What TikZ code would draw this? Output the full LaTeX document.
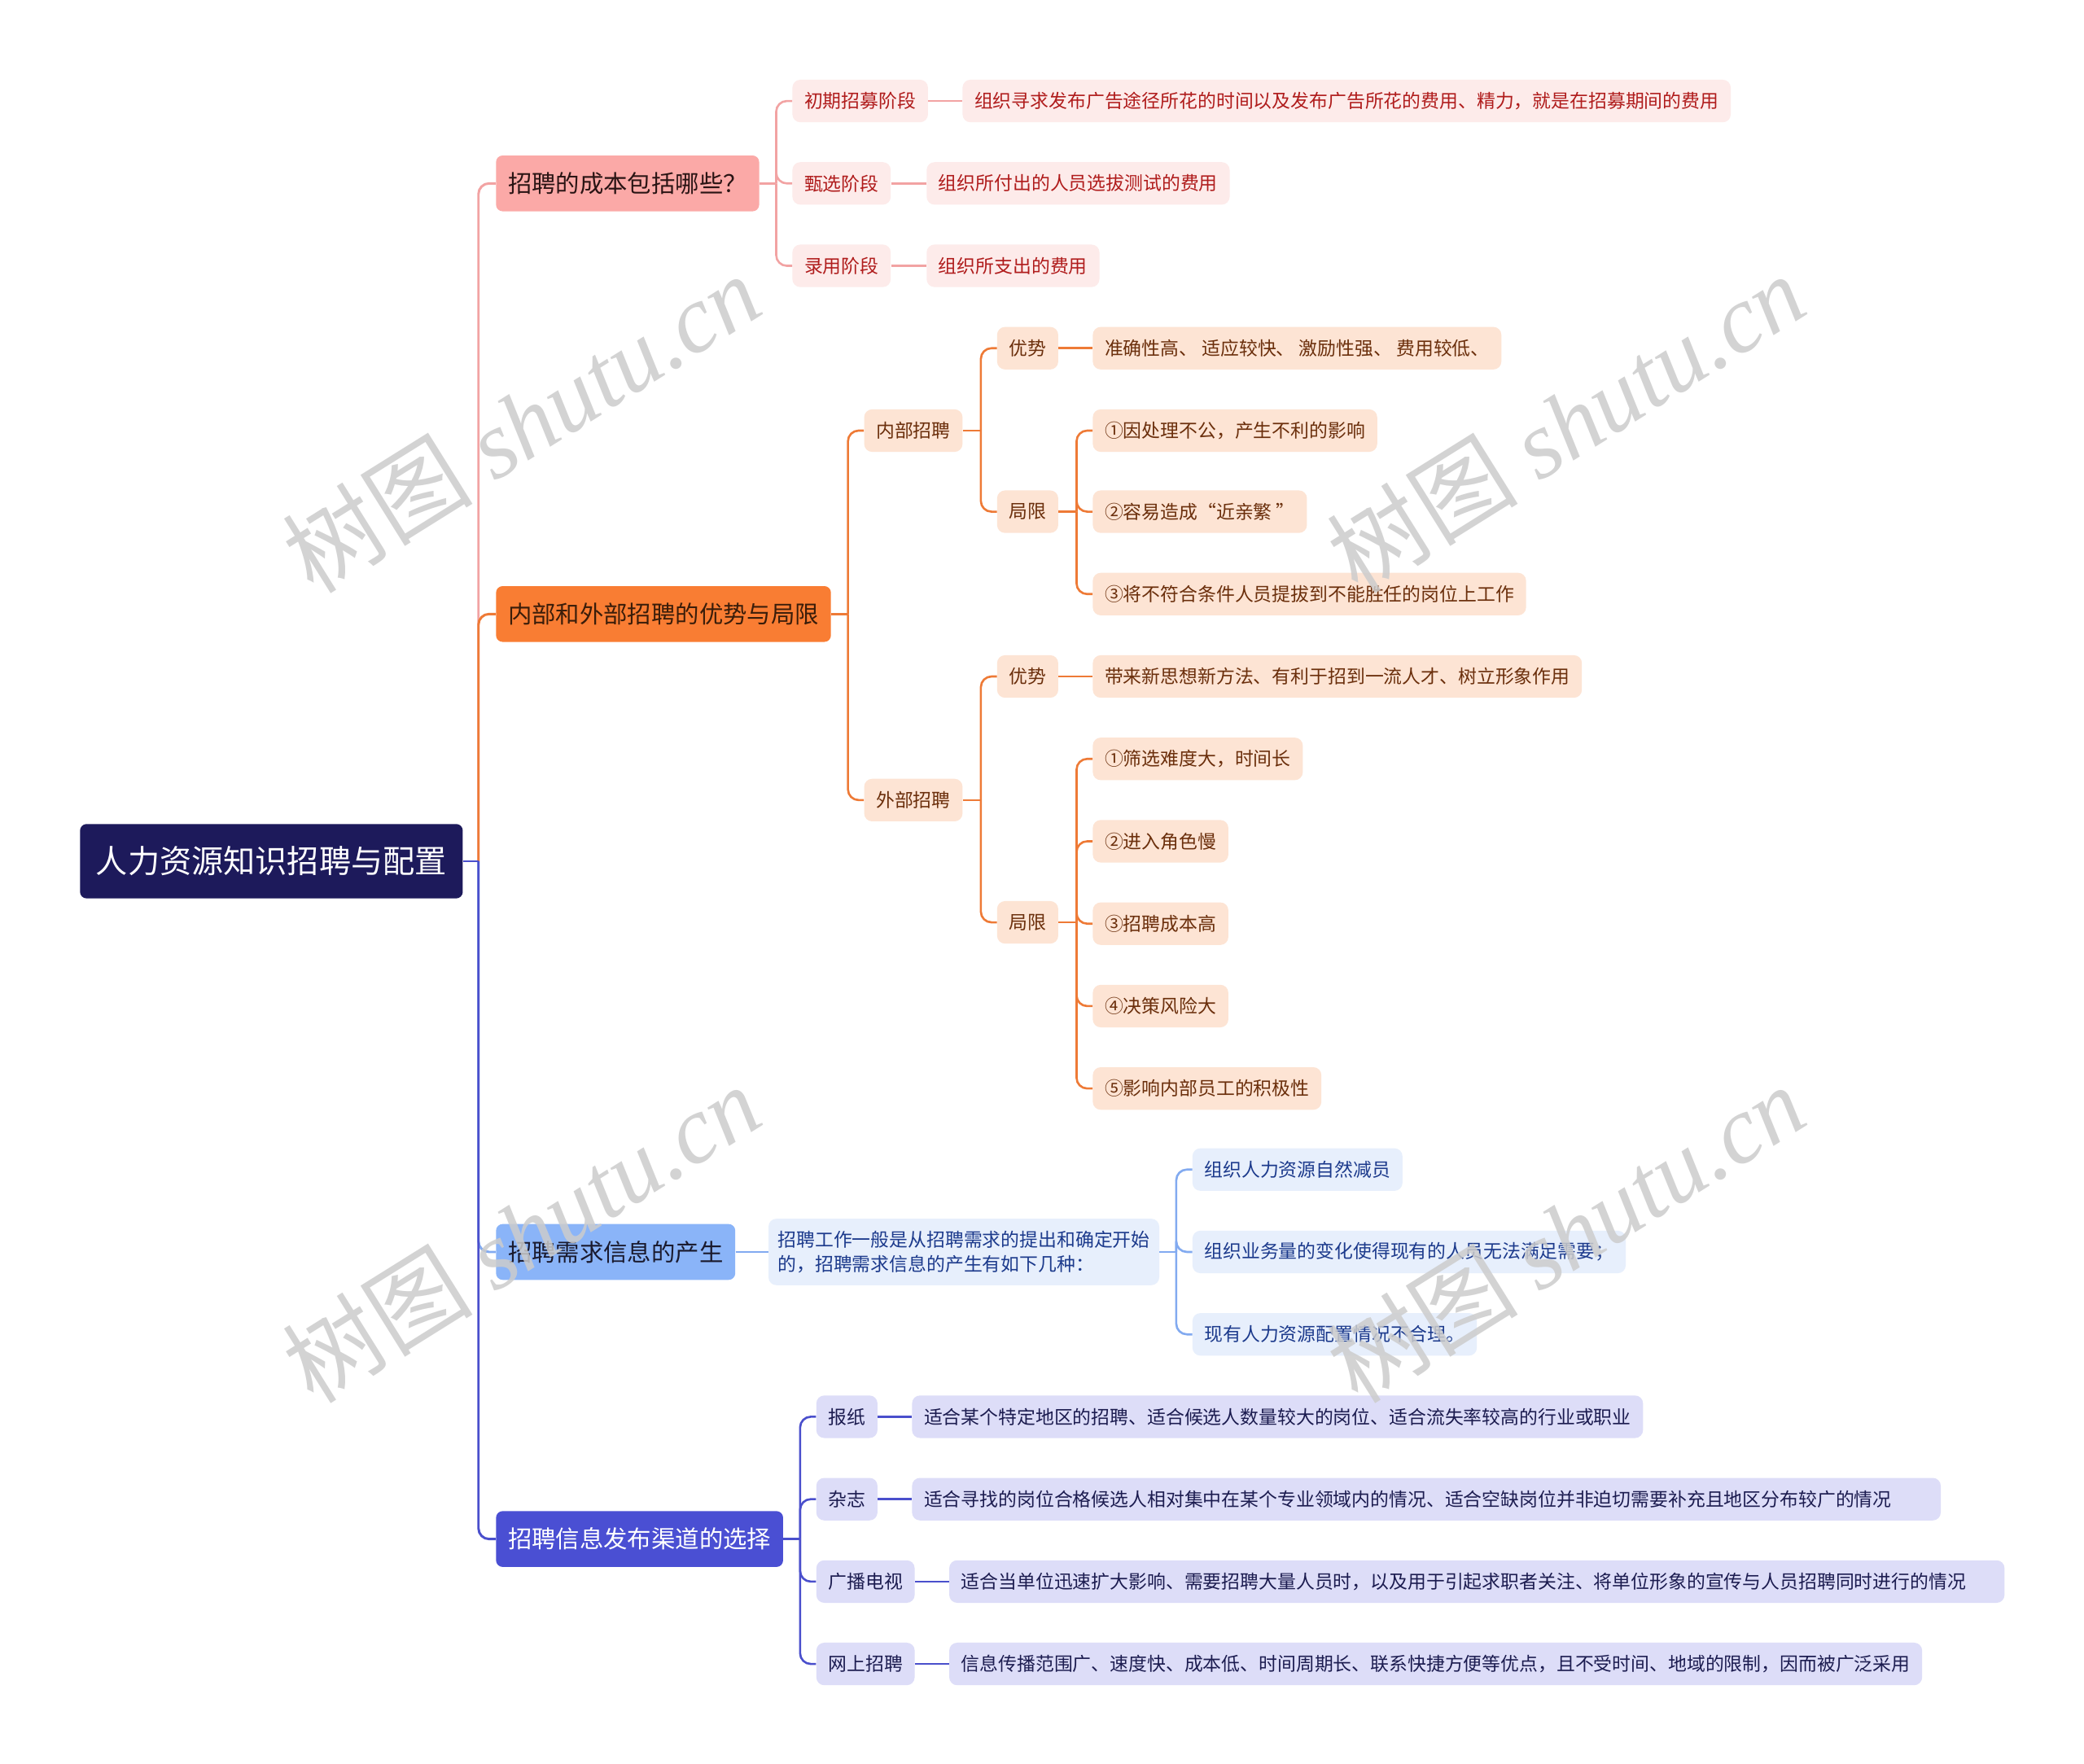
\documentclass[tikz,border=0pt]{standalone}
\usepackage{fontspec}
\setmainfont{Noto Sans CJK SC}
\newfontfamily\wmcjk{Noto Sans CJK SC}
\newfontfamily\wmlat{Liberation Serif}
\definecolor{rootc}{HTML}{1D1A5B}
\definecolor{pkL}{HTML}{F2A3A3}
\definecolor{pkF1}{HTML}{FBA9A7}
\definecolor{pkT1}{HTML}{2A1414}
\definecolor{pkF}{HTML}{FDEBEA}
\definecolor{pkT}{HTML}{B01C1C}
\definecolor{orL}{HTML}{EE7A36}
\definecolor{orF1}{HTML}{F97D33}
\definecolor{orT1}{HTML}{3A1D0A}
\definecolor{orF}{HTML}{FDE4D4}
\definecolor{orT}{HTML}{6B2F0C}
\definecolor{lbL}{HTML}{82AAF0}
\definecolor{lbF1}{HTML}{8AB4F8}
\definecolor{lbT1}{HTML}{1A1A2E}
\definecolor{lbF}{HTML}{E7EFFC}
\definecolor{lbT}{HTML}{1C3A8C}
\definecolor{dbL}{HTML}{4A4FCC}
\definecolor{dbF1}{HTML}{4A4FD3}
\definecolor{dbF}{HTML}{DDDDF8}
\definecolor{dbT}{HTML}{1C1C50}
\definecolor{wmc}{HTML}{CCCCCC}
\tikzset{
  base/.style={anchor=west, rounded corners=5pt, inner ysep=0pt, draw=none},
  rootn/.style={base, fill=rootc, text=white, font=\fontsize{24}{28}\selectfont, minimum height=56pt, inner xsep=12pt},
  lone/.style={base, minimum height=42pt, inner xsep=9pt, font=\fontsize{18}{22}\selectfont},
  leaf/.style={base, font=\fontsize{14}{18}\selectfont, minimum height=32pt, inner xsep=9pt, rounded corners=6pt},
  pk/.style={leaf, fill=pkF, text=pkT},
  or/.style={leaf, fill=orF, text=orT},
  lb/.style={leaf, fill=lbF, text=lbT},
  db/.style={leaf, fill=dbF, text=dbT},
  conn/.style={line width=1.6pt, rounded corners=8pt},
  trunk/.style={line width=1.8pt, rounded corners=8pt},
  wm/.style={rotate=32, text=wmc, opacity=0.85, inner sep=0pt}
}
\begin{document}
\begin{tikzpicture}[x=1pt,y=-1pt]
\useasboundingbox (0,0) rectangle (1568,1327);
\fill[white] (0,0) rectangle (1568,1327);

% root and main branches
\node[rootn] (root) at (60,648) {人力资源知识招聘与配置};
\node[lone, fill=pkF1, text=pkT1] (c) at (373,138) {招聘的成本包括哪些？};
\node[lone, fill=orF1, text=orT1] (o) at (373,462) {内部和外部招聘的优势与局限};
\node[lone, fill=lbF1, text=lbT1] (n) at (373,942) {招聘需求信息的产生};
\node[lone, fill=dbF1, text=white] (q) at (373,1158) {招聘信息发布渠道的选择};

% bus coordinates
\coordinate (bt) at (360,648);
\coordinate (bc) at (584,138);
\coordinate (bo) at (638,462);
\coordinate (bo1) at (738,324);
\coordinate (bo1b) at (810,385);
\coordinate (bo2) at (738,602);
\coordinate (bo2b) at (810,694);
\coordinate (bn1) at (885,942);
\coordinate (bq) at (602,1158);

% cost branch
\node[pk] (c1) at (596,76) {初期招募阶段};
\node[pk] (c2) at (596,138) {甄选阶段};
\node[pk] (c3) at (596,200) {录用阶段};
\node[pk] (c1a) at (724,76) {组织寻求发布广告途径所花的时间以及发布广告所花的费用、精力，就是在招募期间的费用};
\node[pk] (c2a) at (697,138) {组织所付出的人员选拔测试的费用};
\node[pk] (c3a) at (697,200) {组织所支出的费用};

% internal / external
\node[or] (o1) at (650,324) {内部招聘};
\node[or] (o2) at (650,602) {外部招聘};
\node[or] (o1a) at (750,262) {优势};
\node[or] (o1b) at (750,385) {局限};
\node[or] (o2a) at (750,509) {优势};
\node[or] (o2b) at (750,694) {局限};
\node[or] (o1a1) at (822,262) {准确性高、 适应较快、 激励性强、 费用较低、};
\node[or] (o1b1) at (822,324) {①因处理不公，产生不利的影响};
\node[or] (o1b2) at (822,385) {②容易造成“近亲繁 ”};
\node[or] (o1b3) at (822,447) {③将不符合条件人员提拔到不能胜任的岗位上工作};
\node[or] (o2a1) at (822,509) {带来新思想新方法、有利于招到一流人才、树立形象作用};
\node[or] (o2b1) at (822,571) {①筛选难度大，时间长};
\node[or] (o2b2) at (822,633) {②进入角色慢};
\node[or] (o2b3) at (822,695) {③招聘成本高};
\node[or] (o2b4) at (822,757) {④决策风险大};
\node[or] (o2b5) at (822,819) {⑤影响内部员工的积极性};

% demand info
\node[lb, text width=280pt, align=left, minimum height=50pt, inner xsep=7pt] (n1) at (578,942) {招聘工作一般是从招聘需求的提出和确定开始\\的，招聘需求信息的产生有如下几种：};
\node[lb] (n1a) at (897,880) {组织人力资源自然减员};
\node[lb] (n1b) at (897,942) {组织业务量的变化使得现有的人员无法满足需要；};
\node[lb] (n1c) at (897,1004) {现有人力资源配置情况不合理。};

% channels
\node[db] (q1) at (614,1066) {报纸};
\node[db] (q2) at (614,1128) {杂志};
\node[db] (q3) at (614,1190) {广播电视};
\node[db] (q4) at (614,1252) {网上招聘};
\node[db] (q1a) at (686,1066) {适合某个特定地区的招聘、适合候选人数量较大的岗位、适合流失率较高的行业或职业};
\node[db, text width=756pt, align=left] (q2a) at (686,1128) {适合寻找的岗位合格候选人相对集中在某个专业领域内的情况、适合空缺岗位并非迫切需要补充且地区分布较广的情况};
\node[db, text width=776pt, align=left] (q3a) at (714,1190) {适合当单位迅速扩大影响、需要招聘大量人员时，以及用于引起求职者关注、将单位形象的宣传与人员招聘同时进行的情况};
\node[db] (q4a) at (714,1252) {信息传播范围广、速度快、成本低、时间周期长、联系快捷方便等优点，且不受时间、地域的限制，因而被广泛采用};

% trunk
\draw[trunk, pkL] (bt) |- (c.west);
\draw[trunk, orL] (bt) |- (o.west);
\draw[trunk, lbL] (bt) |- (n.west);
\draw[trunk, dbL] (bt) |- (q.west);
\draw[trunk, dbL] (root.east) -- (bt);

% cost connectors
\draw[conn, pkL] (c.east) -- (bc);
\draw[conn, pkL] (bc) |- (c1.west);
\draw[conn, pkL] (bc) |- (c2.west);
\draw[conn, pkL] (bc) |- (c3.west);
\draw[conn, pkL] (c1.east) -- (c1a.west);
\draw[conn, pkL] (c2.east) -- (c2a.west);
\draw[conn, pkL] (c3.east) -- (c3a.west);

% orange connectors
\draw[conn, orL] (o.east) -- (bo);
\draw[conn, orL] (bo) |- (o1.west);
\draw[conn, orL] (bo) |- (o2.west);
\draw[conn, orL] (o1.east) -- (bo1);
\draw[conn, orL] (bo1) |- (o1a.west);
\draw[conn, orL] (bo1) |- (o1b.west);
\draw[conn, orL] (o1a.east) -- (o1a1.west);
\draw[conn, orL] (o1b.east) -- (bo1b);
\draw[conn, orL] (bo1b) |- (o1b1.west);
\draw[conn, orL] (bo1b) |- (o1b2.west);
\draw[conn, orL] (bo1b) |- (o1b3.west);
\draw[conn, orL] (o2.east) -- (bo2);
\draw[conn, orL] (bo2) |- (o2a.west);
\draw[conn, orL] (bo2) |- (o2b.west);
\draw[conn, orL] (o2a.east) -- (o2a1.west);
\draw[conn, orL] (o2b.east) -- (bo2b);
\draw[conn, orL] (bo2b) |- (o2b1.west);
\draw[conn, orL] (bo2b) |- (o2b2.west);
\draw[conn, orL] (bo2b) |- (o2b3.west);
\draw[conn, orL] (bo2b) |- (o2b4.west);
\draw[conn, orL] (bo2b) |- (o2b5.west);

% light blue connectors
\draw[conn, lbL] (n.east) -- (n1.west);
\draw[conn, lbL] (n1.east) -- (bn1);
\draw[conn, lbL] (bn1) |- (n1a.west);
\draw[conn, lbL] (bn1) |- (n1b.west);
\draw[conn, lbL] (bn1) |- (n1c.west);

% dark blue connectors
\draw[conn, dbL] (q.east) -- (bq);
\draw[conn, dbL] (bq) |- (q1.west);
\draw[conn, dbL] (bq) |- (q2.west);
\draw[conn, dbL] (bq) |- (q3.west);
\draw[conn, dbL] (bq) |- (q4.west);
\draw[conn, dbL] (q1.east) -- (q1a.west);
\draw[conn, dbL] (q2.east) -- (q2a.west);
\draw[conn, dbL] (q3.east) -- (q3a.west);
\draw[conn, dbL] (q4.east) -- (q4a.west);

% watermarks
\node[wm] (w1) at (392,318) {\fontsize{72}{76}\selectfont{\wmcjk 树图} {\wmlat\itshape shutu.cn}};
\node[wm] (w2) at (1178,318) {\fontsize{72}{76}\selectfont{\wmcjk 树图} {\wmlat\itshape shutu.cn}};
\node[wm] (w3) at (392,928) {\fontsize{72}{76}\selectfont{\wmcjk 树图} {\wmlat\itshape shutu.cn}};
\node[wm] (w4) at (1178,928) {\fontsize{72}{76}\selectfont{\wmcjk 树图} {\wmlat\itshape shutu.cn}};
\end{tikzpicture}
\end{document}
